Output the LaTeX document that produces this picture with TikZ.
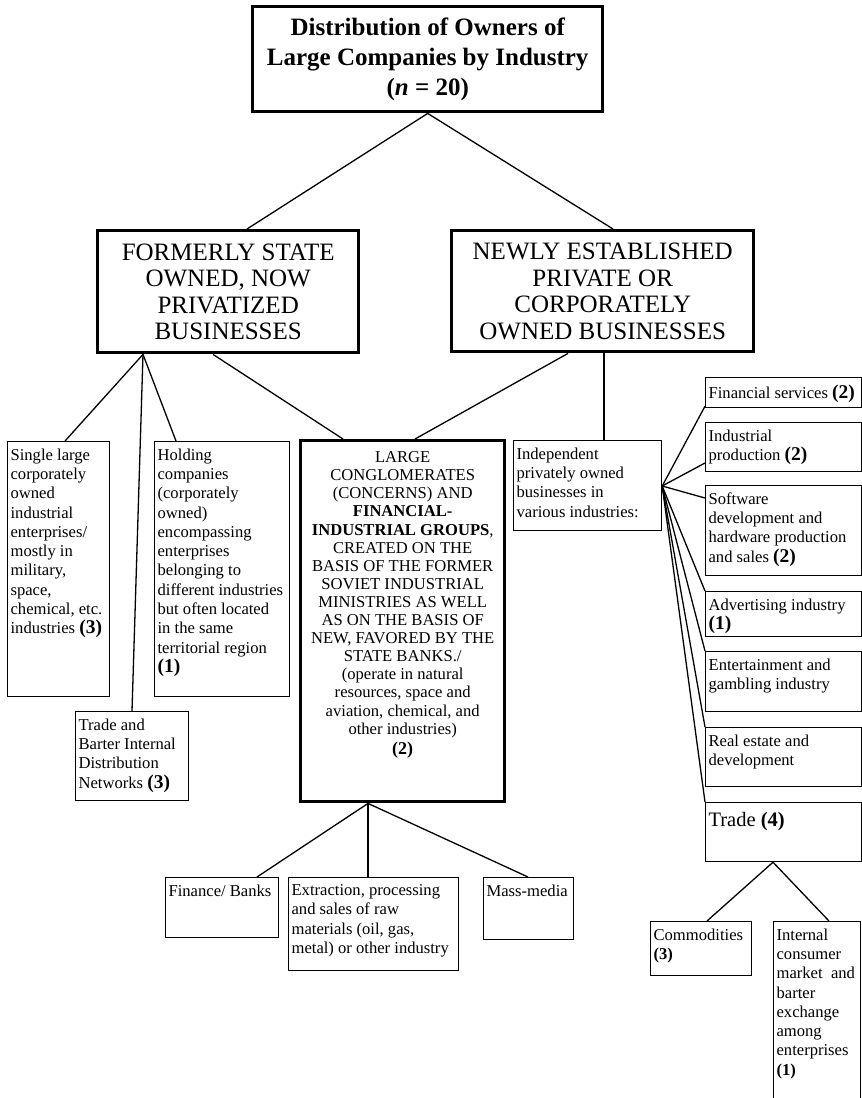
\documentclass[tikz,border=0pt]{standalone}
\usepackage{fontspec}
\setmainfont{Liberation Serif}
\usepackage{tikz}
\usetikzlibrary{positioning}

\newcommand{\cellbox}[3]{\parbox[t][#2][t]{#1}{\raggedright\vspace*{4pt}#3}}
\newcommand{\cnt}[1]{\textbf{(#1)}}
\newcommand{\bigcnt}[1]{{\fontsize{19.5}{19}\selectfont\textbf{(#1)}}}

\begin{document}
\begin{tikzpicture}[x=1pt,y=-1pt,
	leaf/.style={draw, line width=1.2pt, anchor=north west, inner sep=3pt, font=\fontsize{16.6}{19.3}\selectfont},
	heavy/.style={draw, line width=3.4pt, anchor=north west, inner sep=3pt, align=center},
	link/.style={line width=1.3pt}]
	\useasboundingbox (0,0) rectangle (862,1098);

	\node[heavy, minimum width=350pt, minimum height=105pt, font=\fontsize{25}{30}\selectfont\bfseries] (title) at (251,5)
		{Distribution of Owners of\\Large Companies by Industry\\(\textit{n} = 20)};
	\node[heavy, minimum width=261pt, minimum height=122pt, font=\fontsize{25}{26.5}\selectfont] (formerly) at (96,229)
		{FORMERLY STATE\\OWNED, NOW\\PRIVATIZED\\BUSINESSES};
	\node[heavy, minimum width=302pt, minimum height=121pt, font=\fontsize{25}{26.5}\selectfont] (newly) at (450,229)
		{NEWLY ESTABLISHED\\PRIVATE OR\\CORPORATELY\\OWNED BUSINESSES};

	\node[leaf] (single) at (7,441) {\cellbox{96pt}{249pt}{Single large\\corporately\\owned\\industrial\\enterprises/\\mostly in\\military,\\space,\\chemical, etc.\\industries \bigcnt{3}}};
	\node[leaf] (holding) at (154,441) {\cellbox{129pt}{249pt}{Holding\\companies\\(corporately\\owned)\\encompassing\\enterprises\\belonging to\\different industries\\but often located\\in the same\\territorial region\\\bigcnt{1}}};
	\node[leaf] (barter) at (75,711) {\cellbox{107pt}{83pt}{Trade and\\Barter Internal\\Distribution\\Networks \bigcnt{3}}};
	\node[leaf, line width=3.4pt, font=\fontsize{16.6}{18.1}\selectfont] (concern) at (299,439) {\cellbox{198pt}{355pt}{\centering\vspace*{4pt}LARGE\\CONGLOMERATES\\(CONCERNS) AND\\\textbf{FINANCIAL-}\\\textbf{INDUSTRIAL GROUPS},\\CREATED ON THE\\BASIS OF THE FORMER\\SOVIET INDUSTRIAL\\MINISTRIES AS WELL\\AS ON THE BASIS OF\\NEW, FAVORED BY THE\\STATE BANKS./\\(operate in natural\\resources, space and\\aviation, chemical, and\\other industries)\\[2pt]{\fontsize{18}{18}\selectfont\cnt{2}}}};
	\node[leaf] (indep) at (513,440) {\cellbox{142pt}{84pt}{Independent\\privately owned\\businesses in\\various industries:}};

	\node[leaf] (finserv) at (705,377) {\cellbox{150pt}{24pt}{Financial services \bigcnt{2}}};
	\node[leaf] (indprod) at (705,422) {\cellbox{150pt}{43pt}{Industrial\\production \bigcnt{2}}};
	\node[leaf] (software) at (705,485) {\cellbox{150pt}{84pt}{Software\\development and\\hardware production\\and sales \bigcnt{2}}};
	\node[leaf] (advert) at (705,591) {\cellbox{150pt}{39pt}{Advertising industry\\\bigcnt{1}}};
	\node[leaf] (gambling) at (705,651) {\cellbox{150pt}{54pt}{Entertainment and\\gambling industry}};
	\node[leaf] (realty) at (705,727) {\cellbox{150pt}{53pt}{Real estate and\\development}};
	\node[leaf, font=\fontsize{20.5}{24}\selectfont] (trade) at (705,802) {\cellbox{150pt}{53pt}{\vspace*{3pt}Trade \textbf{(4)}}};
	\node[leaf] (commod) at (650,921) {\cellbox{95pt}{48pt}{Commodities\\\cnt{3}}};
	\node[leaf] (internal) at (773,921) {\cellbox{81pt}{183pt}{Internal\\consumer\\market~~and\\barter\\exchange\\among\\enterprises\\\cnt{1}}};

	\node[leaf] (banks) at (165,877) {\cellbox{107pt}{54pt}{Finance/ Banks}};
	\node[leaf] (extract) at (288,877) {\cellbox{164pt}{87pt}{Extraction, processing\\and sales of raw\\materials (oil, gas,\\metal) or other industry}};
	\node[leaf] (media) at (483,877) {\cellbox{84pt}{56pt}{Mass-media}};

	\draw[link] (title.south) -- ([xshift=151pt]formerly.north west);
	\draw[link] (title.south) -- ([xshift=163pt]newly.north west);
	\draw[link] ([xshift=47pt]formerly.south west) -- ([xshift=58pt]single.north west);
	\draw[link] ([xshift=47pt]formerly.south west) -- ([xshift=57pt]barter.north west);
	\draw[link] ([xshift=47pt]formerly.south west) -- ([xshift=22pt]holding.north west);
	\draw[link] ([xshift=117pt]formerly.south west) -- ([xshift=44pt]concern.north west);
	\draw[link] ([xshift=118pt]newly.south west) -- ([xshift=116pt]concern.north west);
	\draw[link] ([xshift=154pt]newly.south west) -- ([xshift=91pt]indep.north west);

	\coordinate (fan) at ([yshift=-46pt]indep.north east);
	\draw[link] (fan) -- ([yshift=2pt]finserv.south west);
	\draw[link] (fan) -- ([yshift=-41pt]indprod.north west);
	\draw[link] (fan) -- ([yshift=-13pt]software.north west);
	\foreach \k in {advert,gambling,realty,trade}
		\draw[link] (fan) -- (\k.north west);

	\draw[link] ([xshift=69pt]concern.south west) -- ([xshift=92pt]banks.north west);
	\draw[link] ([xshift=69pt]concern.south west) -- ([xshift=80pt]extract.north west);
	\draw[link] ([xshift=69pt]concern.south west) -- ([xshift=45pt]media.north west);
	\draw[link] ([xshift=68pt]trade.south west) -- ([xshift=57pt]commod.north west);
	\draw[link] ([xshift=68pt]trade.south west) -- ([xshift=56pt]internal.north west);
\end{tikzpicture}
\end{document}
